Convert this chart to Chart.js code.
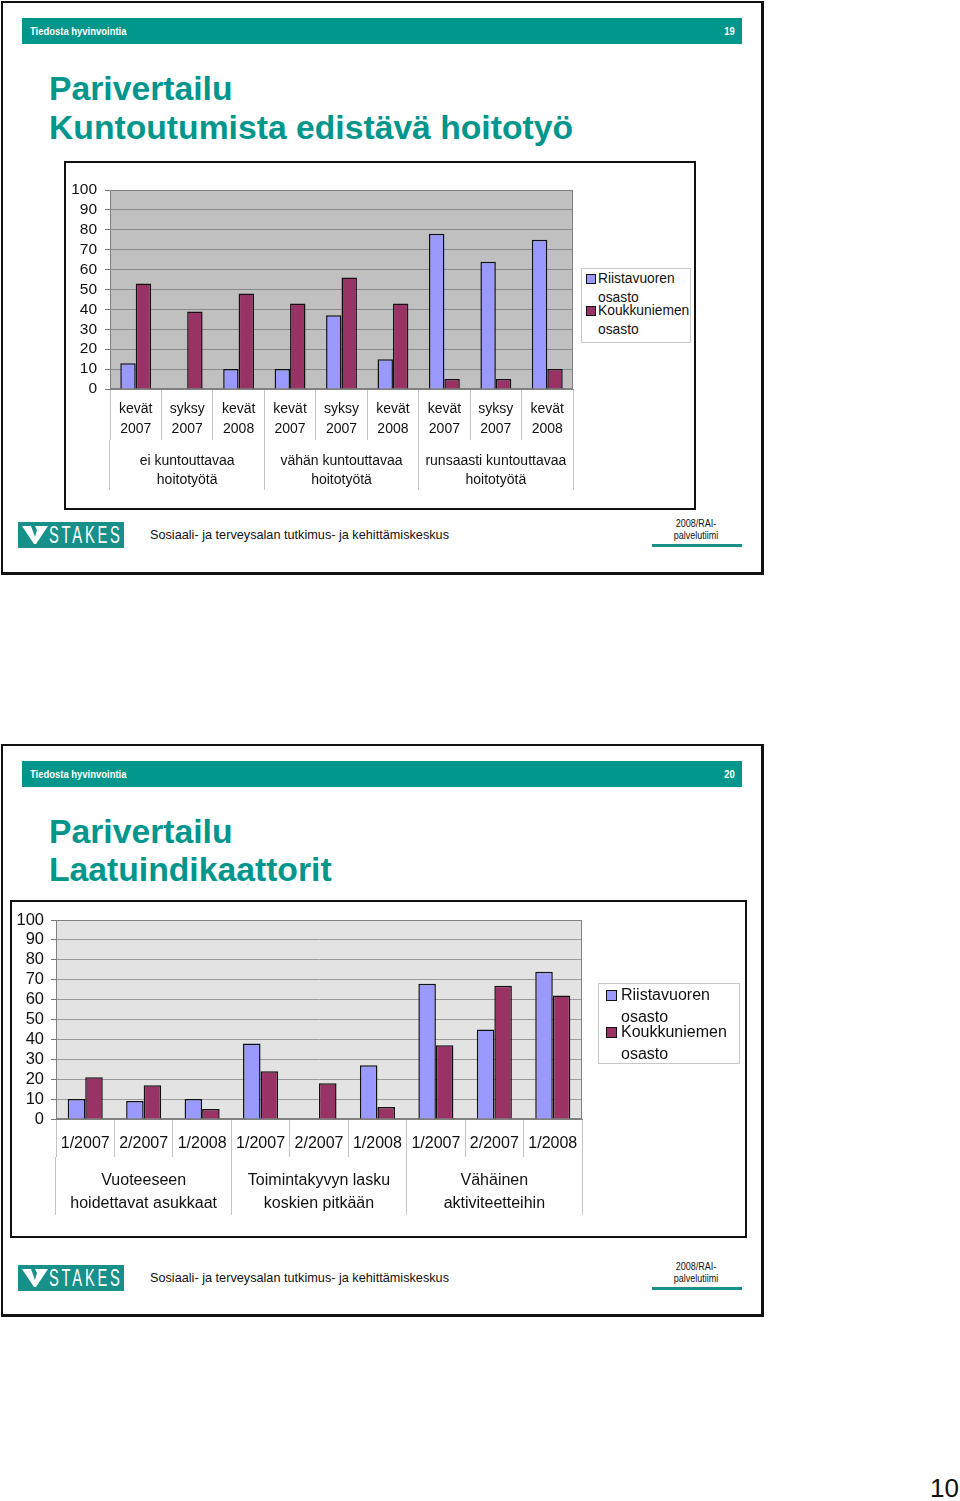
<!DOCTYPE html>
<html lang="fi">
<head>
<meta charset="utf-8">
<title>Parivertailu</title>
<script src="https://cdn.jsdelivr.net/npm/chart.js@4.4.1/dist/chart.umd.min.js"></script>
<style>
  html, body { margin: 0; padding: 0; background: #fff; }
  body {
    position: relative; width: 960px; height: 1501px; overflow: hidden;
    font-family: "Liberation Sans", Arial, Helvetica, sans-serif; color: #111;
  }
  .abs { position: absolute; }
  .frame { position: absolute; box-sizing: border-box; border: 2px solid #111; border-right-width: 3px; border-bottom-width: 3px; }
  .bar {
    position: absolute; left: 22px; width: 720px; height: 26px; background: #00968c; color: #fff;
    font-weight: bold; font-size: 10.5px; line-height: 26px;
  }
  .bar .l { position: absolute; left: 8px; transform: scaleX(0.9); transform-origin: 0 50%; }
  .bar .r { position: absolute; right: 7px; transform: scaleX(0.9); transform-origin: 100% 50%; }
  .title { position: absolute; left: 49px; color: #00968c; font-weight: bold; font-size: 33.7px; line-height: 39px; white-space: nowrap; }
  .box { position: absolute; box-sizing: border-box; border: 2px solid #111; background: #fff; }
  .legend { position: absolute; box-sizing: border-box; border: 1px solid #c8c8c8; background: #fff; white-space: nowrap; }
  .legend .item { position: relative; }
  .legend .sw { position: absolute; box-sizing: border-box; border: 1px solid #111; }
  .logo { position: absolute; left: 18px; width: 106px; height: 26px; background: #17908a; color: #fff; overflow: hidden; }
  .logo svg { position: absolute; left: 4px; top: 4px; }
  .logo .t {
    position: absolute; left: 31px; top: 1px;
    font-size: 21px; line-height: 24px; letter-spacing: 4px; transform: scale(0.7, 1.1); transform-origin: 0 50%;
  }
  .foot { position: absolute; left: 150px; font-size: 12.7px; white-space: nowrap; }
  .rai {
    position: absolute; left: 655px; width: 82px; text-align: center; font-size: 10px; line-height: 12px;
    transform: scaleX(0.9);
  }
  .raibar { position: absolute; left: 652px; width: 90px; height: 3px; background: #17908a; }
  canvas { position: absolute; }
</style>
</head>
<body>

<!-- slide 19 -->
<div class="frame" style="left:1px;top:1px;width:763px;height:574px;"></div>
<div class="bar" style="top:18px;"><span class="l">Tiedosta hyvinvointia</span><span class="r">19</span></div>
<div class="title" style="top:69px;">Parivertailu<br>Kuntoutumista edistävä hoitotyö</div>
<div class="box" style="left:64px;top:161px;width:632px;height:349px;"></div>
<canvas id="chart1" width="627" height="342" style="left:66px;top:164px;"></canvas>
<div class="legend" id="legend1" style="left:581px;top:268px;width:110px;height:75px;"></div>
<div class="logo" style="top:522px;"><svg width="26" height="18" viewBox="0 0 26 18"><polygon points="0,0 9,0 13,11 15,4 13,0 26,0 14,18 12,18" fill="#fff"/></svg><span class="t">STAKES</span></div>
<div class="foot" style="top:528px;">Sosiaali- ja terveysalan tutkimus- ja kehittämiskeskus</div>
<div class="rai" style="top:518px;">2008/RAI-<br>palvelutiimi</div>
<div class="raibar" style="top:544px;"></div>

<!-- slide 20 -->
<div class="frame" style="left:1px;top:744px;width:763px;height:573px;"></div>
<div class="bar" style="top:761px;"><span class="l">Tiedosta hyvinvointia</span><span class="r">20</span></div>
<div class="title" style="top:812px;line-height:38px;">Parivertailu<br>Laatuindikaattorit</div>
<div class="box" style="left:10px;top:900px;width:737px;height:338px;"></div>
<canvas id="chart2" width="732" height="332" style="left:12px;top:903px;"></canvas>
<div class="legend" id="legend2" style="left:598px;top:983px;width:142px;height:81px;"></div>
<div class="logo" style="top:1265px;"><svg width="26" height="18" viewBox="0 0 26 18"><polygon points="0,0 9,0 13,11 15,4 13,0 26,0 14,18 12,18" fill="#fff"/></svg><span class="t">STAKES</span></div>
<div class="foot" style="top:1271px;">Sosiaali- ja terveysalan tutkimus- ja kehittämiskeskus</div>
<div class="rai" style="top:1261px;">2008/RAI-<br>palvelutiimi</div>
<div class="raibar" style="top:1287px;"></div>

<div class="abs" style="left:930px;top:1474px;font-size:26px;line-height:28px;">10</div>

<script>
// series names (wrapped as in the legend)
const seriesNames = [["Riistavuoren", "osasto"], ["Koukkuniemen", "osasto"]];
const seriesColors = ["#9999ff", "#993366"];

// y axis
const yMin = 0;
const yMax = 100;
const yStep = 10;

// slide 19: kuntoutumista edistävä hoitotyö
const groups1 = [
    ["ei kuntouttavaa", "hoitotyötä"],
    ["vähän kuntouttavaa", "hoitotyötä"],
    ["runsaasti kuntouttavaa", "hoitotyötä"],
];
const periods1 = [
    ["kevät", "2007"], ["syksy", "2007"], ["kevät", "2008"],
    ["kevät", "2007"], ["syksy", "2007"], ["kevät", "2008"],
    ["kevät", "2007"], ["syksy", "2007"], ["kevät", "2008"],
];
const riista1 = [13, 0, 10, 10, 37, 15, 78, 64, 75];
const koukku1 = [53, 39, 48, 43, 56, 43, 5, 5, 10];

// slide 20: laatuindikaattorit
const groups2 = [
    ["Vuoteeseen", "hoidettavat asukkaat"],
    ["Toimintakyvyn lasku", "koskien pitkään"],
    ["Vähäinen", "aktiviteetteihin"],
];
const periods2 = [
    "1/2007", "2/2007", "1/2008",
    "1/2007", "2/2007", "1/2008",
    "1/2007", "2/2007", "1/2008",
];
const riista2 = [10, 9, 10, 38, 0, 27, 68, 45, 74];
const koukku2 = [21, 17, 5, 24, 18, 6, 37, 67, 62];

/**
 * Grey plot area with a thin frame, like the old Excel charts
 */
const plotFrame = {
    id: "plotFrame",
    beforeDraw(chart, args, opts) {
        const { ctx, chartArea: a } = chart;
        ctx.save();
        ctx.fillStyle = opts.fill;
        ctx.fillRect(a.left, a.top, a.right - a.left, a.bottom - a.top);
        ctx.restore();
    },
    beforeDatasetsDraw(chart, args, opts) {
        const { ctx, chartArea: a } = chart;
        ctx.save();
        ctx.strokeStyle = opts.stroke;
        ctx.lineWidth = 1;
        ctx.strokeRect(a.left + 0.5, a.top + 0.5, a.right - a.left - 1, a.bottom - a.top - 1);
        ctx.restore();
    },
};

function makeChart(id, periods, groups, s1, s2, cfg) {
    const ctx = document.getElementById(id).getContext("2d");
    const textColor = "#111";
    return new Chart(ctx, {
        type: "bar",
        data: {
            labels: periods,
            datasets: [s1, s2].map((values, i) => ({
                label: seriesNames[i].join(" "),
                data: values,
                backgroundColor: seriesColors[i],
                borderColor: "#111",
                borderWidth: 1.5,
                borderSkipped: "bottom",
                categoryPercentage: 0.6,
                barPercentage: 1,
            })),
        },
        plugins: [plotFrame],
        options: {
            responsive: false,
            animation: false,
            devicePixelRatio: 1,
            layout: { padding: cfg.padding },
            plugins: {
                legend: { display: false },
                tooltip: { enabled: false },
                plotFrame: { fill: cfg.plotFill, stroke: "#808080" },
            },
            scales: {
                y: {
                    min: yMin,
                    max: yMax,
                    ticks: {
                        stepSize: yStep,
                        autoSkip: false,
                        color: textColor,
                        padding: cfg.yPad,
                        font: { size: cfg.yFont, family: "'Liberation Sans', Arial, sans-serif" },
                    },
                    grid: { color: cfg.gridColor, tickLength: 5, tickColor: "#777" },
                    border: { color: "#808080" },
                    afterFit(s) { s.width = cfg.yWidth; },
                },
                x: {
                    type: "category",
                    offset: true,
                    grid: { offset: true, drawOnChartArea: false, tickLength: cfg.xH, color: "#c4c4c4" },
                    border: { color: "#808080" },
                    ticks: {
                        color: textColor,
                        autoSkip: false,
                        maxRotation: 0,
                        padding: cfg.xPad,
                        font: { size: cfg.xFont, lineHeight: cfg.xLine, family: "'Liberation Sans', Arial, sans-serif" },
                    },
                    afterFit(s) { s.height = cfg.xH; },
                },
                x2: {
                    type: "category",
                    position: "bottom",
                    labels: groups,
                    offset: true,
                    grid: { offset: true, drawOnChartArea: false, tickLength: cfg.gH, color: "#c4c4c4" },
                    border: { display: false },
                    ticks: {
                        color: textColor,
                        autoSkip: false,
                        maxRotation: 0,
                        padding: cfg.gPad,
                        font: { size: cfg.xFont, lineHeight: cfg.gLine, family: "'Liberation Sans', Arial, sans-serif" },
                    },
                    afterFit(s) { s.height = cfg.gH; },
                },
            },
        },
    });
}

function buildLegend(id, cfg) {
    const box = document.getElementById(id);
    box.style.fontSize = cfg.font + "px";
    seriesNames.forEach((lines, i) => {
        const item = document.createElement("div");
        item.className = "item";
        item.style.paddingLeft = cfg.textLeft + "px";
        item.style.lineHeight = cfg.line + "px";
        item.style.marginTop = (i === 0 ? cfg.top : cfg.gap) + "px";
        const sw = document.createElement("span");
        sw.className = "sw";
        sw.style.left = cfg.swLeft + "px";
        sw.style.top = (cfg.line - cfg.sw) / 2 + "px";
        sw.style.width = cfg.sw + "px";
        sw.style.height = cfg.sw + "px";
        sw.style.background = seriesColors[i];
        item.appendChild(sw);
        item.appendChild(document.createTextNode(lines[0]));
        item.appendChild(document.createElement("br"));
        item.appendChild(document.createTextNode(lines[1]));
        box.appendChild(item);
    });
}

makeChart("chart1", periods1, groups1, riista1, koukku1, {
    padding: { top: 26, right: 120, bottom: 16, left: 0 },
    plotFill: "#c0c0c0",
    gridColor: "#8a8a8a",
    yWidth: 44, yPad: 8, yFont: 15.5,
    xH: 51, xPad: -41, xFont: 14, xLine: 1.43,
    gH: 50, gPad: -38, gLine: 1.36,
});

makeChart("chart2", periods2, groups2, riista2, koukku2, {
    padding: { top: 17, right: 162, bottom: 20, left: 0 },
    plotFill: "#e3e3e3",
    gridColor: "#9a9a9a",
    yWidth: 44, yPad: 7, yFont: 16.5,
    xH: 38, xPad: -23, xFont: 16, xLine: 1.25,
    gH: 58, gPad: -46, gLine: 1.44,
});

buildLegend("legend1", { font: 13.8, line: 19, top: 0, gap: -6, textLeft: 16, swLeft: 4, sw: 10 });
buildLegend("legend2", { font: 16, line: 22, top: 0, gap: -7, textLeft: 22, swLeft: 7, sw: 11 });
</script>
</body>
</html>
